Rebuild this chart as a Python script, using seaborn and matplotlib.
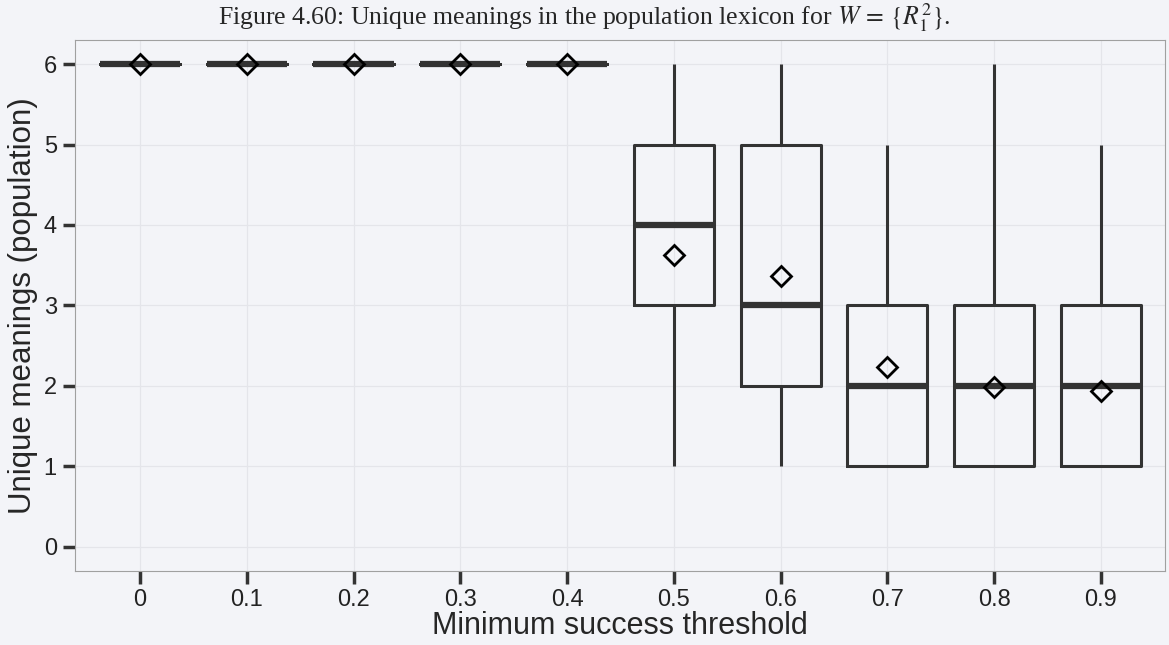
import numpy as np
import pandas as pd
import matplotlib
matplotlib.use("Agg")
import matplotlib.pyplot as plt
import seaborn as sns

# thresholds on the x axis
thresholds = ["0", "0.1", "0.2", "0.3", "0.4", "0.5", "0.6", "0.7", "0.8", "0.9"]
meaning_values = [1, 2, 3, 4, 5, 6]

# how many runs ended with 1..6 unique meanings, per threshold (100 runs each)
counts_00 = [0, 0, 0, 0, 0, 100]
counts_01 = [0, 0, 0, 0, 0, 100]
counts_02 = [0, 0, 0, 0, 0, 100]
counts_03 = [0, 0, 0, 0, 0, 100]
counts_04 = [0, 0, 0, 0, 0, 100]
counts_05 = [11, 13, 21, 18, 31, 6]
counts_06 = [13, 21, 21, 13, 25, 7]
counts_07 = [33, 31, 20, 11, 5, 0]
counts_08 = [42, 32, 17, 5, 2, 2]
counts_09 = [44, 30, 18, 5, 3, 0]

all_counts = [counts_00, counts_01, counts_02, counts_03, counts_04,
              counts_05, counts_06, counts_07, counts_08, counts_09]

rows = []
for thr, cnt in zip(thresholds, all_counts):
    vals = np.repeat(meaning_values, cnt)
    rows.append(pd.DataFrame({"threshold": thr, "meanings": vals}))
df = pd.concat(rows, ignore_index=True)

sns.set_style("ticks")
plt.rcParams["font.family"] = ["Liberation Sans", "DejaVu Sans"]
plt.rcParams["mathtext.fontset"] = "stix"

bg = "#f3f4f8"
line_col = "#333333"

fig = plt.figure(figsize=(11.69, 6.45), dpi=100, facecolor=bg)
ax = fig.add_axes([0.064, 0.115, 0.9326, 0.823])
ax.set_facecolor(bg)

sns.boxplot(data=df, x="threshold", y="meanings", order=thresholds, ax=ax,
            width=0.75, color=line_col, linecolor=line_col, linewidth=2.2,
            fill=False, showfliers=False, whis=1.5, showmeans=True,
            medianprops=dict(color=line_col, linewidth=4.5),
            meanprops=dict(marker="D", markerfacecolor="none",
                           markeredgecolor="black", markeredgewidth=2,
                           markersize=10),
            capprops=dict(linewidth=0))

ax.set_ylim(-0.3, 6.3)
ax.set_xlim(-0.61, 9.6)
ax.set_yticks(range(0, 7))
ax.grid(True, color="#e4e5ea", linewidth=0.9)
ax.set_axisbelow(True)
for s in ax.spines.values():
    s.set_visible(True)
    s.set_color("#a0a0a0")
    s.set_linewidth(0.8)

ax.tick_params(axis="both", length=9, width=2.5, color=line_col,
               labelsize=17, labelcolor="#222222", direction="out",
               bottom=True, left=True, pad=4)
ax.set_xlabel("Minimum success threshold", fontsize=22, labelpad=0)
ax.set_ylabel("Unique meanings (population)", fontsize=22.5)
ax.yaxis.set_label_coords(-0.034, 0.5)

fig.suptitle(r"Figure 4.60: Unique meanings in the population lexicon for $W\, =\, \{R_1^2\}$.",
             fontsize=18.5, family="Liberation Serif", y=0.998, va="top")

fig.savefig("out.png", dpi=100, facecolor=bg)
